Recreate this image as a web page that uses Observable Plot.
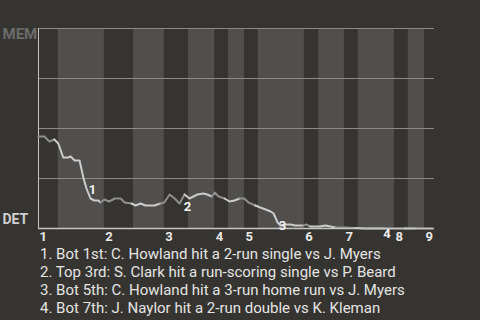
<!DOCTYPE html>
<html><head><meta charset="utf-8">
<script src="https://cdn.jsdelivr.net/npm/d3@7"></script>
<script src="https://cdn.jsdelivr.net/npm/@observablehq/plot@0.6"></script>
<style>
html,body{margin:0;padding:0;background:#363430;width:480px;height:320px;overflow:hidden;font-family:Roboto,"Noto Sans",sans-serif;}
#chart svg{display:block;}
#captions{padding-left:40px;margin-top:0;color:#e4e4e4;font-size:15px;line-height:18px;}
</style></head><body>
<div id="chart"></div>
<div id="captions"></div>
<script>
// Half-inning boundaries (in play units), top/bottom alternate
const halfBoundaries = [0, 4, 13.3, 19.2, 25.4, 30.3, 35.6, 38.4, 41.6, 44.4, 53.7, 56.6, 61.8, 64.6, 71.9, 74.7, 78, 80];
const inningLabels = ["1","2","3","4","5","6","7","8","9"];
const teamTop = "MEM";
const teamBottom = "DET";
// Win probability line (MEM win probability)
const plays = [0, 1.2, 2.2, 3.2, 4.0, 5.0, 6.0, 6.5, 7.3, 8.3, 9.1, 9.7, 10.5, 11.3, 12.1, 12.5, 13.3, 14.3, 15.4, 16.6, 17.4, 18.8, 19.6, 20.6, 21.6, 23.4, 24.6, 25.4, 26.5, 27.5, 28.5, 29.5, 30.5, 32.1, 33.3, 34.1, 35.0, 35.6, 36.4, 37.6, 38.6, 39.6, 40.6, 41.6, 42.4, 43.8, 44.8, 45.9, 46.9, 47.5, 48.3, 48.9, 50.1, 50.9, 51.9, 53.5, 54.1, 54.9, 56.8, 58.0, 59.0, 60.0, 62.0, 64.0, 66, 68, 70, 72, 74, 76, 78, 79.5];
const memWinProb = [0.46, 0.46, 0.435, 0.445, 0.425, 0.355, 0.355, 0.36, 0.34, 0.34, 0.25, 0.20, 0.15, 0.14, 0.14, 0.13, 0.145, 0.135, 0.15, 0.15, 0.13, 0.125, 0.115, 0.125, 0.115, 0.115, 0.125, 0.13, 0.17, 0.15, 0.125, 0.17, 0.15, 0.17, 0.175, 0.17, 0.16, 0.18, 0.16, 0.15, 0.135, 0.14, 0.15, 0.15, 0.13, 0.115, 0.105, 0.095, 0.085, 0.075, 0.03, 0.015, 0.02, 0.02, 0.015, 0.015, 0.02, 0.01, 0.01, 0.015, 0.01, 0.005, 0.005, 0.002, 0, 0, 0, 0, 0, 0, 0, 0];
// Key events
const eventLabels = ["1","2","3","4"];
const eventPlays = [10.5, 30.5, 48.9, 70];
const eventProbs = [0.15, 0.15, 0.015, 0];
const eventCaptions = [
  "1. Bot 1st: C. Howland hit a 2-run single vs J. Myers",
  "2. Top 3rd: S. Clark hit a run-scoring single vs P. Beard",
  "3. Bot 5th: C. Howland hit a 3-run home run vs J. Myers",
  "4. Bot 7th: J. Naylor hit a 2-run double vs K. Kleman"
];

const halves = halfBoundaries.slice(0, -1).map((s, i) => ({x1: s, x2: halfBoundaries[i + 1], half: i}));
const inningStarts = halves.filter(d => d.half % 2 === 0).map(d => d.x1);
function halfOf(x) { let h = 0; for (let i = 1; i < halfBoundaries.length - 1; i++) if (x >= halfBoundaries[i]) h = i; return h; }
const pts = plays.map((p, i) => ({x: p, y: memWinProb[i], half: halfOf(p)}));
// segments per half-inning, connected to previous point
const segs = [];
halves.forEach(h => {
  const idx = pts.map((d, i) => i).filter(i => pts[i].half === h.half);
  if (!idx.length) return;
  const start = idx[0] > 0 ? idx[0] - 1 : idx[0];
  for (let i = start; i <= idx[idx.length - 1]; i++) segs.push({x: pts[i].x, y: pts[i].y, seg: h.half, bottom: h.half % 2 === 1});
});
const evs = eventLabels.map((t, i) => ({t, x: eventPlays[i], y: eventProbs[i]}));
const evOffsets = [[2, -9], [-2, 8], [2, 0], [2, 5]];

const marks = [
  Plot.rect(halves.filter(d => d.half % 2 === 1), {x1: "x1", x2: "x2", y1: 0, y2: 1, fill: "#504f4d"}),
  Plot.ruleY([0.25, 0.5, 0.75, 1], {stroke: "#8a8a88", strokeWidth: 1}),
  Plot.ruleX([0], {stroke: "#c4c4c4", strokeWidth: 1}),
  Plot.line(segs, {x: "x", y: "y", z: "seg", stroke: d => d.bottom ? "#cbcbcb" : "#8e8e8e", strokeWidth: 2}),
  Plot.ruleY([0], {stroke: "#c4c4c4", strokeWidth: 1.5}),
  Plot.text(inningStarts, {x: d => d, y: 0, text: (d, i) => inningLabels[i], textAnchor: "start", dx: 1, dy: 8, fill: "#e8e8e8", fontWeight: "bold", fontSize: 13}),
  Plot.text([teamTop], {y: 1, frameAnchor: "left", text: d => d, textAnchor: "start", dx: -36, dy: 6, fill: "#6b6b6b", fontWeight: "bold", fontSize: 15}),
  Plot.text([teamBottom], {y: 0, frameAnchor: "left", text: d => d, textAnchor: "start", dx: -36, dy: -9, fill: "#cfcfcf", fontWeight: "bold", fontSize: 14})
];
evs.forEach((e, i) => marks.push(Plot.text([e], {x: "x", y: "y", text: "t", dx: evOffsets[i][0], dy: evOffsets[i][1], fill: "#f2f2f2", fontWeight: "bold", fontSize: 13})));

const chart = Plot.plot({
  width: 480, height: 245,
  marginLeft: 38, marginRight: 46, marginTop: 28, marginBottom: 17,
  style: {background: "#363430", fontFamily: "Roboto, sans-serif", overflow: "visible"},
  x: {domain: [0, 80], axis: null},
  y: {domain: [0, 1], axis: null},
  marks
});
document.getElementById("chart").appendChild(chart);
document.getElementById("captions").innerHTML = eventCaptions.map(c => `<div>${c}</div>`).join("");
</script>
</body></html>
